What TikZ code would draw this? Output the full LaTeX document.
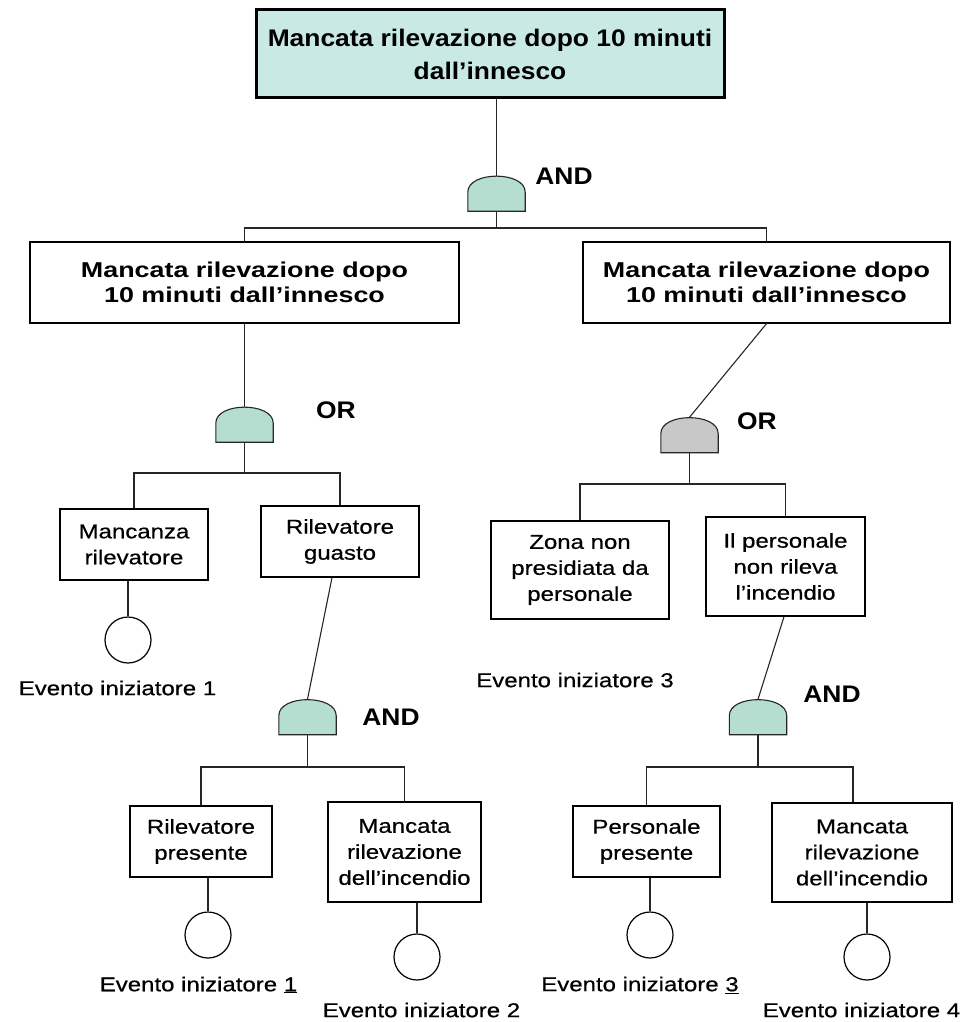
\documentclass[tikz,border=0pt]{standalone}
\usepackage{fontspec}
\setmainfont{Liberation Sans}
\newfontfamily\titlef{Liberation Sans}[FakeStretch=1.1]
\newfontfamily\midf{Liberation Sans}[FakeStretch=1.25]
\newfontfamily\smallf{Liberation Sans}[FakeStretch=1.2, FakeBold=0.6]

\definecolor{topfill}{RGB}{200,233,228}
\definecolor{gatefill}{RGB}{182,222,208}
\definecolor{gatgray}{RGB}{200,200,200}

\tikzset{
  wire/.style={line width=1.1pt, draw=black!85},
  topbox/.style={draw, line width=3pt, fill=topfill, minimum width=468pt,
    minimum height=88pt, inner sep=0pt, align=center,
    font=\titlef\bfseries\fontsize{24}{33}\selectfont},
  midbox/.style={draw, line width=1.3pt, fill=white, minimum height=81pt,
    inner sep=0pt, align=center,
    font=\midf\bfseries\fontsize{21.5}{24.5}\selectfont},
  evbox/.style={draw, line width=1.3pt, fill=white, inner sep=0pt,
    align=center, font=\smallf\fontsize{20}{26}\selectfont},
  gatebox/.style={minimum width=57pt, minimum height=35pt, inner sep=0pt},
  gatetag/.style={inner sep=0pt, font=\titlef\bfseries\fontsize{24}{28}\selectfont},
  basic/.style={circle, draw, line width=1.2pt, minimum size=46pt, inner sep=0pt},
  evlabel/.style={inner sep=0pt, font=\smallf\fontsize{20}{24}\selectfont},
}

% gate outline: straight sides, flat bottom, domed top
\newcommand\gateshape[2]{%
  \draw[wire, fill=#2] (#1.south west) -- ([yshift=19pt]#1.south west)
    .. controls ([yshift=5pt]#1.north west) and ([yshift=5pt]#1.north east)
    .. ([yshift=19pt]#1.south east) -- (#1.south east) -- cycle;}

\begin{document}
\begin{tikzpicture}[x=1pt, y=-1pt]
  \useasboundingbox[fill=white] (0,0) rectangle (970,1022);

  % top event
  \node[topbox] (top) at (490,54) {Mancata rilevazione dopo 10 minuti\\dall’innesco};

  % first AND gate
  \node[gatebox] (g1) at (496.5,193.5) {};
  \gateshape{g1}{gatefill}
  \node[gatetag] (t1) at (564,176) {AND};

  % intermediate events
  \node[midbox, minimum width=429pt] (L1) at (244.5,282.5) {Mancata rilevazione dopo\\10 minuti dall’innesco};
  \node[midbox, minimum width=367pt] (R1) at (766.5,282.5) {Mancata rilevazione dopo\\10 minuti dall’innesco};

  % left OR gate
  \node[gatebox] (g2) at (244.5,424.5) {};
  \gateshape{g2}{gatefill}
  \node[gatetag] (t2) at (336,410) {OR};

  % right OR gate
  \node[gatebox] (g4) at (689.5,435) {};
  \gateshape{g4}{gatgray}
  \node[gatetag] (t4) at (757,421) {OR};

  % left branch events
  \node[evbox, minimum width=148pt, minimum height=71pt] (A) at (134,544.5) {Mancanza\\rilevatore};
  \node[evbox, minimum width=158pt, minimum height=71pt] (B) at (340,541.5) {Rilevatore\\guasto};
  \node[basic] (c1) at (128,640) {};
  \node[evlabel] (e1) at (117.5,688) {Evento iniziatore 1};

  % AND gate under "Rilevatore guasto"
  \node[gatebox] (g3) at (307.5,717) {};
  \gateshape{g3}{gatefill}
  \node[gatetag] (t3) at (391,717) {AND};

  \node[evbox, minimum width=142pt, minimum height=71pt] (C) at (201,841.5) {Rilevatore\\presente};
  \node[evbox, minimum width=153pt, minimum height=100pt] (D) at (404.5,852) {Mancata\\rilevazione\\dell’incendio};
  \node[basic] (c2) at (208,935) {};
  \node[basic] (c3) at (417,957) {};
  \node[evlabel] (e2) at (198.5,985) {Evento iniziatore \underline{1}};
  \node[evlabel] (e3) at (421.5,1010) {Evento iniziatore 2};

  % right branch events
  \node[evbox, minimum width=178pt, minimum height=98pt] (E) at (580,570) {Zona non\\presidiata da\\personale};
  \node[evbox, minimum width=159pt, minimum height=99pt] (F) at (785.5,566.5) {Il personale\\non rileva\\l’incendio};
  \node[evlabel] (e4) at (575,680) {Evento iniziatore 3};

  % AND gate under "Il personale non rileva l'incendio"
  \node[gatebox] (g5) at (758,717) {};
  \gateshape{g5}{gatefill}
  \node[gatetag] (t5) at (832,694) {AND};

  \node[evbox, minimum width=147pt, minimum height=71pt] (G) at (646.5,841.5) {Personale\\presente};
  \node[evbox, minimum width=180pt, minimum height=99pt] (H) at (862,852.5) {Mancata\\rilevazione\\dell’incendio};
  \node[basic] (c4) at (650,935) {};
  \node[basic] (c5) at (867,957) {};
  \node[evlabel] (e5) at (640,985) {Evento iniziatore \underline{3}};
  \node[evlabel] (e6) at (861.5,1010) {Evento iniziatore 4};

  % fork points
  \coordinate (f1) at (496.5,228);
  \coordinate (f2) at (244.5,473);
  \coordinate (f3) at (307.5,767);
  \coordinate (f4) at (689.5,484);
  \coordinate (f5) at (758,767);

  % connectors
  \draw[wire] (top.south -| g1.north) -- (g1.north);
  \draw[wire] (g1.south) -- (f1) -| (L1.north);
  \draw[wire] (f1) -| (R1.north);

  \draw[wire] (L1.south -| g2.north) -- (g2.north);
  \draw[wire] (g2.south) -- (f2) -| (A.north);
  \draw[wire] (f2) -| (B.north);
  \draw[wire] (c1.north |- A.south) -- (c1.north);

  \draw[wire] ([xshift=-8pt]B.south) -- (g3.north);
  \draw[wire] (g3.south) -- (f3) -| (C.north);
  \draw[wire] (f3) -| (D.north);
  \draw[wire] (c2.north |- C.south) -- (c2.north);
  \draw[wire] (c3.north |- D.south) -- (c3.north);

  \draw[wire] (R1.south) -- (g4.north);
  \draw[wire] (g4.south) -- (f4) -| (E.north);
  \draw[wire] (f4) -| (F.north);

  \draw[wire] ([xshift=-1.5pt]F.south) -- (g5.north);
  \draw[wire] (g5.south) -- (f5) -| (G.north);
  \draw[wire] (f5) -| ([xshift=-9pt]H.north);
  \draw[wire] (c4.north |- G.south) -- (c4.north);
  \draw[wire] (c5.north |- H.south) -- (c5.north);
\end{tikzpicture}
\end{document}
